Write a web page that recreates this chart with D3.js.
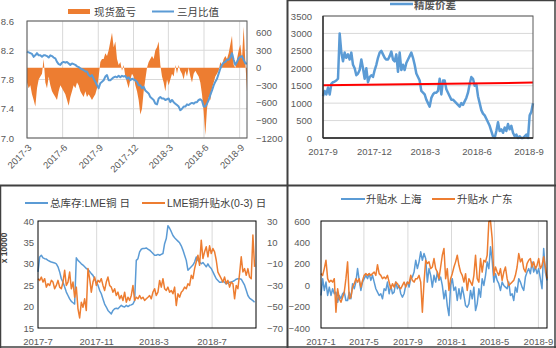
<!DOCTYPE html>
<html><head><meta charset="utf-8">
<script src="https://cdn.jsdelivr.net/npm/d3@7/dist/d3.min.js"></script>
<style>
html,body{margin:0;padding:0;background:#fff;}
svg text{font-family:"Liberation Sans","Noto Sans CJK SC",sans-serif;}
</style></head>
<body><svg id="c" width="556" height="348"></svg>
<script>
// ---------------- DATA ----------------
// Panel 1 (top-left)
const p1Legend = ["现货盈亏", "三月比值"];
const p1Start = "2017-03-01", p1End = "2018-09-20";
const p1XTicks = ["2017-3","2017-6","2017-9","2017-12","2018-3","2018-6","2018-9"];
const p1LeftTicks = [7.0, 7.4, 7.8, 8.2, 8.6];
const p1RightTicks = [-1200, -900, -600, -300, 0, 300, 600];
const p1Profit = [-250,-350,-300,-450,-550,-660,-350,-200,-150,-100,150,-250,-350,-150,-300,-400,-450,-500,-550,-400,
 -300,-350,-400,-450,-550,-650,-500,-400,-300,-350,-250,-300,-400,-450,-500,-400,-500,-450,-500,-550,
 -500,-450,-350,-150,100,150,150,250,200,300,450,600,350,450,150,50,100,-50,50,-150,
 -250,-350,-200,-100,-150,-300,-400,-550,-800,-700,-400,-200,0,100,150,200,150,300,350,450,
 50,-150,-250,-400,-200,-300,-200,-100,-150,50,-100,50,-50,-100,-200,-50,-150,0,-150,-250,
 -100,-50,-100,-150,-250,-450,-750,-1150,-700,-500,-550,-350,-250,-150,-100,-50,100,50,150,200,
 150,250,400,550,50,0,150,300,400,150,700,100,-400];
const p1Ratio = [8.18,8.17,8.16,8.15,8.11,8.13,8.16,8.13,8.13,8.11,8.13,8.13,8.12,8.10,8.13,8.12,8.10,8.09,8.04,8.01,
 8.00,8.03,8.04,8.03,8.04,8.02,8.00,8.02,8.01,8.00,7.98,7.97,7.95,7.94,7.93,7.91,7.91,7.86,7.84,7.86,
 7.81,7.77,7.72,7.68,7.75,7.77,7.79,7.84,7.86,7.79,7.79,7.81,7.83,7.84,7.83,7.85,7.83,7.85,7.84,7.85,
 7.81,7.83,7.79,7.81,7.80,7.79,7.77,7.72,7.72,7.68,7.70,7.65,7.63,7.61,7.56,7.54,7.52,7.47,7.46,7.54,
 7.56,7.54,7.54,7.52,7.53,7.54,7.49,7.52,7.49,7.47,7.45,7.43,7.38,7.40,7.43,7.43,7.46,7.45,7.47,7.48,
 7.47,7.49,7.49,7.52,7.53,7.51,7.43,7.43,7.47,7.52,7.59,7.65,7.72,7.77,7.81,7.88,7.95,8.00,8.03,8.04,
 8.07,8.07,8.10,8.16,8.07,8.00,8.04,8.09,8.11,8.12,8.07,8.02,8.02];

// Panel 2 (top-right)
const p2Legend = ["精废价差"];
const p2Start = "2017-09-01", p2End = "2018-09-08";
const p2XTicks = ["2017-9","2017-12","2018-3","2018-6","2018-9"];
const p2YTicks = [0,500,1000,1500,2000,2500,3000,3500];
const p2Spread = [1200,1350,1250,1450,1250,1550,1600,1620,1650,1700,3000,2450,2200,2450,2300,2400,2250,2450,2100,2000,
 1800,1850,1950,2250,2000,1700,2000,1600,1750,1800,1750,1950,2100,2300,2450,2500,2400,2300,2250,2250,
 2350,2480,2250,2200,2400,1900,2450,1950,2100,1950,2150,2250,2350,2450,2300,2100,1850,1750,1650,1350,
 1300,1250,1100,1000,900,1150,1250,1300,1300,1350,1700,1250,1650,1650,1400,1300,1200,1100,1100,1050,
 1000,950,900,1000,950,1050,1150,1300,1550,1750,1700,1500,1550,1200,1000,800,700,650,550,450,
 350,200,50,0,200,450,200,250,150,300,200,400,250,350,150,50,100,0,50,0,
 0,50,100,0,650,750,1000];
const p2TrendEnds = [1510, 1590];

// Panel 3 (bottom-left)
const p3Legend = ["总库存:LME铜 日", "LME铜升贴水(0-3) 日"];
const p3Start = "2017-07-01", p3End = "2018-09-28", p3DomainEnd = "2018-10-01";
const p3XTicks = ["2017-7","2017-11","2018-3","2018-7"];
const p3LeftTicks = [15,20,25,30,35,40];
const p3RightTicks = [-70,-50,-30,-10,10,30];
const p3Stock = [28.1,31.6,32.0,31.4,31.2,31.1,30.8,30.6,30.4,30.3,30.2,30.0,29.3,28.1,26.5,25.7,24.6,23.4,22.6,21.8,
 21.2,20.9,20.6,31.4,30.8,30.4,30.0,29.7,29.3,28.9,28.7,28.2,27.7,27.3,26.5,25.7,25.0,23.8,23.0,21.8,
 20.6,19.9,19.1,18.7,18.3,19.1,19.5,19.6,19.5,19.9,20.3,20.0,19.9,20.3,20.0,20.3,20.4,20.6,21.4,30.8,
 31.2,32.8,33.4,33.6,33.6,33.7,33.4,33.2,32.8,32.4,32.0,32.0,32.2,32.0,32.2,32.4,34.7,35.9,38.9,38.3,
 37.5,36.6,36.1,35.7,35.3,34.9,34.2,33.2,32.0,30.8,28.5,28.9,29.3,29.7,30.4,31.6,30.8,30.4,30.0,30.3,
 29.8,29.3,30.0,29.3,28.9,28.1,27.3,26.5,26.1,25.7,25.7,25.9,25.7,25.3,25.5,25.7,25.7,25.9,26.1,26.4,
 26.5,26.5,26.4,25.7,25.0,23.8,22.6,22.0,21.7,21.4,21.0];
const p3Basis = [-23.9,-25.5,-22.4,-27.1,-23.9,-31.8,-28.6,-30.2,-25.5,-27.1,-33.3,-30.2,-25.5,-31.8,-33.3,-27.1,-16.1,-30.2,-27.1,-17.7,
 -33.3,-27.1,-41.2,-31.8,-52.1,-60.6,-45.9,-50.6,-42.7,-53.7,-14.5,-23.9,-36.5,-27.1,-22.4,-30.2,-25.5,-27.1,-23.9,-30.2,
 -34.9,-27.1,-22.4,-30.2,-31.8,-36.5,-33.3,-39.6,-36.5,-42.7,-39.6,-44.3,-36.5,-45.9,-41.2,-44.3,-39.6,-30.2,-44.3,-41.2,
 -42.7,-39.6,-42.7,-41.2,-44.3,-42.7,-41.2,-39.6,-42.7,-36.5,-33.3,-39.6,-36.5,-25.5,-31.8,-23.9,-33.3,-34.9,-31.8,-36.5,
 -34.9,-38.0,-31.8,-49.0,-38.0,-41.2,-36.5,-34.9,-31.8,-33.3,-28.6,-30.2,-20.8,-23.9,-14.5,-8.2,-2.0,-11.4,12.1,-5.1,
 1.2,5.9,-3.5,6.8,-0.4,4.3,1.2,-6.7,-17.7,-20.8,-23.9,-27.1,-22.4,-28.6,-25.5,-31.8,-27.1,-28.6,-42.7,-30.2,
 -33.3,-19.2,-3.5,-17.7,-14.5,-20.8,-14.5,-22.4,-23.9,16.8,-12.9];

// Panel 4 (bottom-right)
const p4Legend = ["升贴水 上海", "升贴水 广东"];
const p4Start = "2017-01-01", p4End = "2018-09-25";
const p4XTicks = ["2017-1","2017-5","2017-9","2018-1","2018-5","2018-9"];
const p4YTicks = [-400,-200,0,200,400,600];
const p4Shanghai = [-96,61,-49,29,-96,-18,-96,-33,-80,-65,-159,-96,-127,-80,-65,-143,-143,-65,-127,14,
 -33,29,155,45,-49,29,61,92,61,108,45,92,29,-33,-65,-96,-80,-127,-33,-49,
 29,-80,-2,-80,-65,29,-33,-2,-80,-112,-80,-2,29,-18,61,76,123,233,155,218,
 312,233,296,249,29,155,92,-18,92,29,123,45,76,-2,-127,-49,-190,-284,-2,61,
 -49,-18,-143,-33,-127,-18,-96,-190,-206,-174,-49,-127,-18,-237,-174,-33,-112,61,-2,92,
 218,155,359,233,29,108,45,14,-49,29,-2,-18,-33,29,-96,-80,-143,-18,-65,61,
 29,-18,-49,76,123,155,108,218,123,170,108,155,61,-33,343,123,45];
const p4Guangdong = [108,92,155,233,61,29,45,29,61,-253,-33,-127,-159,-112,-65,61,218,-127,-112,-18,
 14,61,29,61,-18,45,92,108,92,108,92,108,123,92,192,108,92,61,76,61,
 92,29,-33,14,-18,29,14,-18,-33,-2,29,-18,29,14,92,45,29,61,61,92,
 29,-253,29,233,202,218,155,170,249,155,123,61,170,280,343,61,155,-49,61,108,
 170,218,280,186,123,92,29,108,-49,61,29,-2,92,280,61,29,249,123,233,218,
 280,594,600,437,92,170,123,92,155,45,123,170,61,-2,14,29,45,92,170,296,
 218,249,155,123,202,233,249,170,218,155,186,249,155,186,265,170,61];

// ---------------- DRAW ----------------
const svg = d3.select("#c");
const parse = d3.timeParse("%Y-%m-%d");
const parseM = d3.timeParse("%Y-%m");
const BLUE = "#5B9BD5", ORANGE = "#ED7D31", TXT = "#595959", GRID = "#D9D9D9";
const FS = 9.5;
const intFmt = d3.format("d");

function spread(values, start, end) {
  const t0 = parse(start).getTime(), t1 = parse(end).getTime();
  return values.map((v, i) => ({ date: new Date(t0 + (t1 - t0) * i / (values.length - 1)), value: v }));
}

function styleAxis(g) {
  g.select(".domain").remove();
  g.selectAll(".tick line").remove();
  g.selectAll("text").attr("fill", TXT).style("font-size", FS + "px");
}

// ===== Panel 1 =====
(function () {
  const L = 27, R = 247, T = 21, B = 138;
  const x = d3.scaleTime().domain([parse(p1Start), parse(p1End)]).range([L, R]);
  const yL = d3.scaleLinear().domain([7.0, 8.6]).range([B, T]);
  const yR = d3.scaleLinear().domain([-1200, 800]).range([B, T]);
  const g = svg.append("g");
  const xt = p1XTicks.map(parseM);
  g.append("g").selectAll("line").data(p1LeftTicks).join("line")
    .attr("x1", L).attr("x2", R).attr("y1", d => yL(d)).attr("y2", d => yL(d))
    .attr("stroke", GRID).attr("stroke-width", 1);
  g.append("g").selectAll("line").data(xt).join("line")
    .attr("x1", d => x(d)).attr("x2", d => x(d)).attr("y1", T).attr("y2", B)
    .attr("stroke", GRID).attr("stroke-width", 1);
  const prof = spread(p1Profit, p1Start, p1End);
  g.append("path").datum(prof)
    .attr("d", d3.area().x(d => x(d.date)).y0(yR(0)).y1(d => yR(d.value)))
    .attr("fill", ORANGE);
  const rat = spread(p1Ratio, p1Start, p1End);
  g.append("path").datum(rat)
    .attr("d", d3.line().x(d => x(d.date)).y(d => yL(d.value)))
    .attr("fill", "none").attr("stroke", BLUE).attr("stroke-width", 2).attr("stroke-linejoin", "round");
  g.append("rect").attr("x", L).attr("y", T).attr("width", R - L).attr("height", B - T)
    .attr("fill", "none").attr("stroke", "#595959").attr("stroke-width", 1);
  const al = g.append("g").attr("transform", `translate(${L - 13},0)`)
    .call(d3.axisLeft(yL).tickValues(p1LeftTicks).tickFormat(d3.format(".1f")).tickSize(0).tickPadding(0));
  styleAxis(al);
  const ar = g.append("g").attr("transform", `translate(${R + 9},0)`)
    .call(d3.axisRight(yR).tickValues(p1RightTicks).tickFormat(intFmt).tickSize(0).tickPadding(0));
  styleAxis(ar);
  g.append("g").selectAll("text").data(xt).join("text")
    .attr("transform", d => `translate(${x(d) + 3},${B + 8}) rotate(-45)`)
    .attr("text-anchor", "end").attr("dy", "0.35em")
    .attr("fill", TXT).style("font-size", FS + "px")
    .text((d, i) => p1XTicks[i]);
  g.append("rect").attr("x", 68).attr("y", 9).attr("width", 22).attr("height", 5).attr("fill", ORANGE);
  g.append("text").attr("x", 94).attr("y", 15.5).text(p1Legend[0]).attr("fill", "#404040").style("font-size", "10.5px");
  g.append("line").attr("x1", 152).attr("x2", 174).attr("y1", 11.5).attr("y2", 11.5).attr("stroke", BLUE).attr("stroke-width", 2);
  g.append("text").attr("x", 177).attr("y", 15.5).text(p1Legend[1]).attr("fill", "#404040").style("font-size", "10.5px");
})();

// ===== Panel 2 =====
(function () {
  const L = 323, R = 533, T = 16, B = 138;
  const x = d3.scaleTime().domain([parse(p2Start), parse(p2End)]).range([L, R]);
  const y = d3.scaleLinear().domain([0, 3500]).range([B, T]);
  const g = svg.append("g");
  g.append("g").selectAll("line").data(p2YTicks).join("line")
    .attr("x1", L).attr("x2", R).attr("y1", d => y(d)).attr("y2", d => y(d))
    .attr("stroke", GRID).attr("stroke-width", 1);
  const s = spread(p2Spread, p2Start, p2End);
  g.append("path").datum(s)
    .attr("d", d3.line().x(d => x(d.date)).y(d => y(d.value)))
    .attr("fill", "none").attr("stroke", BLUE).attr("stroke-width", 2.5).attr("stroke-linejoin", "round");
  const tr = [{ date: parse(p2Start), value: p2TrendEnds[0] }, { date: parse(p2End), value: p2TrendEnds[1] }];
  g.append("path").datum(tr)
    .attr("d", d3.line().x(d => x(d.date)).y(d => y(d.value)))
    .attr("stroke", "#FF0000").attr("stroke-width", 2);
  g.append("rect").attr("x", L).attr("y", T).attr("width", R - L).attr("height", B - T)
    .attr("fill", "none").attr("stroke", "#595959").attr("stroke-width", 1);
  g.append("line").attr("x1", L).attr("x2", L).attr("y1", T).attr("y2", B).attr("stroke", "#262626").attr("stroke-width", 1.3);
  g.append("line").attr("x1", L).attr("x2", R).attr("y1", B).attr("y2", B).attr("stroke", "#262626").attr("stroke-width", 1.3);
  const al = g.append("g").attr("transform", `translate(${L - 11},0)`)
    .call(d3.axisLeft(y).tickValues(p2YTicks).tickFormat(intFmt).tickSize(0).tickPadding(0));
  styleAxis(al);
  const xt = p2XTicks.map(parseM);
  g.append("g").selectAll("text").data(xt).join("text")
    .attr("x", d => x(d)).attr("y", B + 17).attr("text-anchor", "middle")
    .attr("fill", TXT).style("font-size", FS + "px").text((d, i) => p2XTicks[i]);
  g.append("line").attr("x1", 390).attr("x2", 413).attr("y1", 4).attr("y2", 4).attr("stroke", BLUE).attr("stroke-width", 2.5);
  g.append("text").attr("x", 414).attr("y", 8.5).text(p2Legend[0]).attr("fill", "#595959").style("font-size", "10.5px").style("font-weight", "bold");
})();

// ===== Panel 3 =====
(function () {
  const L = 38, R = 256, T = 221, B = 328;
  const x = d3.scaleTime().domain([parse(p3Start), parse(p3DomainEnd)]).range([L, R]);
  const yL = d3.scaleLinear().domain([15, 40]).range([B, T]);
  const yR = d3.scaleLinear().domain([-70, 30]).range([B, T]);
  const g = svg.append("g");
  const xt = p3XTicks.map(parseM);
  g.append("g").selectAll("line").data(xt.slice(1)).join("line")
    .attr("x1", d => x(d)).attr("x2", d => x(d)).attr("y1", T).attr("y2", B)
    .attr("stroke", GRID).attr("stroke-width", 1);
  const st = spread(p3Stock, p3Start, p3End);
  g.append("path").datum(st)
    .attr("d", d3.line().x(d => x(d.date)).y(d => yL(d.value)))
    .attr("fill", "none").attr("stroke", BLUE).attr("stroke-width", 1.5).attr("stroke-linejoin", "round");
  const ba = spread(p3Basis, p3Start, p3End);
  g.append("path").datum(ba)
    .attr("d", d3.line().x(d => x(d.date)).y(d => yR(d.value)))
    .attr("fill", "none").attr("stroke", ORANGE).attr("stroke-width", 1.5).attr("stroke-linejoin", "round");
  g.append("rect").attr("x", L).attr("y", T).attr("width", R - L).attr("height", B - T)
    .attr("fill", "none").attr("stroke", "#000").attr("stroke-width", 1);
  const al = g.append("g").attr("transform", `translate(${L - 4},0)`)
    .call(d3.axisLeft(yL).tickValues(p3LeftTicks).tickFormat(intFmt).tickSize(0).tickPadding(0));
  styleAxis(al);
  const ar = g.append("g").attr("transform", `translate(${R + 11},0)`)
    .call(d3.axisRight(yR).tickValues(p3RightTicks).tickFormat(intFmt).tickSize(0).tickPadding(0));
  styleAxis(ar);
  g.append("g").selectAll("text").data(xt).join("text")
    .attr("x", d => x(d)).attr("y", B + 17).attr("text-anchor", "middle")
    .attr("fill", TXT).style("font-size", FS + "px").text((d, i) => p3XTicks[i]);
  g.append("text").attr("transform", "translate(7,248) rotate(-90)").attr("text-anchor", "middle")
    .attr("fill", "#404040").style("font-size", "8.5px").style("font-weight", "bold").text("x 10000");
  g.append("line").attr("x1", 25).attr("x2", 48).attr("y1", 203).attr("y2", 203).attr("stroke", BLUE).attr("stroke-width", 2);
  g.append("text").attr("x", 50).attr("y", 207).text(p3Legend[0]).attr("fill", "#404040").style("font-size", "10.5px");
  g.append("line").attr("x1", 142).attr("x2", 165).attr("y1", 203).attr("y2", 203).attr("stroke", ORANGE).attr("stroke-width", 2);
  g.append("text").attr("x", 167).attr("y", 207).text(p3Legend[1]).attr("fill", "#404040").style("font-size", "10.5px");
})();

// ===== Panel 4 =====
(function () {
  const L = 321, R = 547, T = 221, B = 328;
  const x = d3.scaleTime().domain([parse(p4Start), parse(p4End)]).range([L, R]);
  const y = d3.scaleLinear().domain([-400, 600]).range([B, T]);
  const g = svg.append("g");
  const xt = p4XTicks.map(parseM);
  g.append("g").selectAll("line").data(xt.slice(1)).join("line")
    .attr("x1", d => x(d)).attr("x2", d => x(d)).attr("y1", T).attr("y2", B)
    .attr("stroke", GRID).attr("stroke-width", 1);
  const sh = spread(p4Shanghai, p4Start, p4End);
  g.append("path").datum(sh)
    .attr("d", d3.line().x(d => x(d.date)).y(d => y(d.value)))
    .attr("fill", "none").attr("stroke", BLUE).attr("stroke-width", 1.5).attr("stroke-linejoin", "round");
  const gd = spread(p4Guangdong, p4Start, p4End);
  g.append("path").datum(gd)
    .attr("d", d3.line().x(d => x(d.date)).y(d => y(d.value)))
    .attr("fill", "none").attr("stroke", ORANGE).attr("stroke-width", 1.5).attr("stroke-linejoin", "round");
  g.append("rect").attr("x", L).attr("y", T).attr("width", R - L).attr("height", B - T)
    .attr("fill", "none").attr("stroke", "#000").attr("stroke-width", 1);
  const al = g.append("g").attr("transform", `translate(${L - 11},0)`)
    .call(d3.axisLeft(y).tickValues(p4YTicks).tickFormat(intFmt).tickSize(0).tickPadding(0));
  styleAxis(al);
  g.append("g").selectAll("text").data(xt).join("text")
    .attr("x", d => x(d)).attr("y", B + 17).attr("text-anchor", "middle")
    .attr("fill", TXT).style("font-size", FS + "px").text((d, i) => p4XTicks[i]);
  g.append("line").attr("x1", 341).attr("x2", 365).attr("y1", 199).attr("y2", 199).attr("stroke", BLUE).attr("stroke-width", 2);
  g.append("text").attr("x", 366).attr("y", 203).text(p4Legend[0]).attr("fill", "#404040").style("font-size", "10.5px");
  g.append("line").attr("x1", 432).attr("x2", 455).attr("y1", 199).attr("y2", 199).attr("stroke", ORANGE).attr("stroke-width", 2);
  g.append("text").attr("x", 457).attr("y", 203).text(p4Legend[1]).attr("fill", "#404040").style("font-size", "10.5px");
})();

// ===== Frame =====
const frame = svg.append("g").attr("stroke", "#404040").attr("fill", "none");
frame.append("line").attr("x1", 287.5).attr("x2", 287.5).attr("y1", 0).attr("y2", 348).attr("stroke-width", 2);
frame.append("line").attr("x1", 0).attr("x2", 556).attr("y1", 185.5).attr("y2", 185.5).attr("stroke-width", 2);
frame.append("line").attr("x1", 287).attr("x2", 556).attr("y1", 0.5).attr("y2", 0.5).attr("stroke-width", 1.5);
frame.append("line").attr("x1", 0.5).attr("x2", 0.5).attr("y1", 185).attr("y2", 348).attr("stroke-width", 1.5);
frame.append("line").attr("x1", 555).attr("x2", 555).attr("y1", 0).attr("y2", 348).attr("stroke-width", 1.5);
frame.append("line").attr("x1", 0).attr("x2", 556).attr("y1", 347).attr("y2", 347).attr("stroke-width", 1.5);
</script></body></html>
